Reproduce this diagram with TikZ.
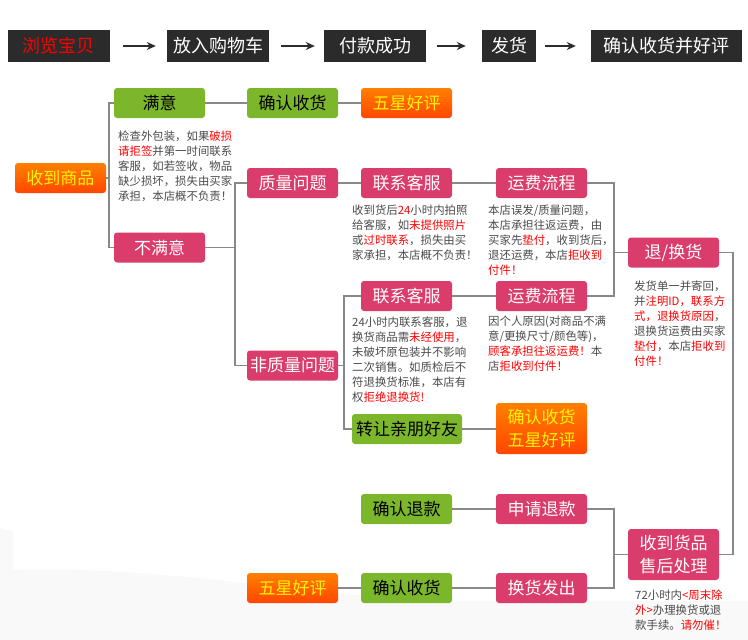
\documentclass[tikz,border=0pt]{standalone}
\usepackage{fontspec}
\newfontfamily\cjk{Noto Sans CJK SC}
\usetikzlibrary{arrows.meta}
\definecolor{mygreen}{RGB}{123,182,43}
\definecolor{mypink}{RGB}{218,60,108}
\definecolor{orA}{RGB}{255,128,0}
\definecolor{orB}{RGB}{255,70,0}
\definecolor{ylw}{RGB}{255,242,0}
\definecolor{lgray}{RGB}{136,136,136}
\definecolor{dark}{RGB}{43,43,43}
\definecolor{desctext}{RGB}{74,74,74}
\definecolor{rd}{RGB}{255,0,0}
\definecolor{bggray}{RGB}{249,249,249}
\newcommand{\rr}[1]{\textcolor{rd}{#1}}
\tikzset{
  box/.style={rounded corners=3pt, minimum width=91pt, minimum height=30pt, inner sep=0pt,
    font=\cjk\fontsize{17}{20}\selectfont, align=center},
  gbox/.style={box, fill=mygreen, text=black},
  pbox/.style={box, fill=mypink, text=white},
  obox/.style={box, top color=orA, bottom color=orB, text=ylw},
  topbox/.style={fill=dark, text=white, minimum height=32pt, inner sep=0pt,
    font=\cjk\fontsize{18}{20}\selectfont},
  desc/.style={anchor=north west, inner sep=0pt, align=left, text=desctext,
    font=\cjk\fontsize{11.4}{15}\selectfont},
  conn/.style={draw=lgray, line width=1.8pt},
  toparrow/.style={draw=dark, line width=1.4pt, -{Stealth[length=9pt,width=8pt]}}
}
\begin{document}
\begin{tikzpicture}[x=1pt,y=-1pt]
\useasboundingbox (0,0) rectangle (748,640);
\fill[bggray] (0,528) -- (13,532) -- (13,570) .. controls (150,566) and (260,588) .. (420,601) -- (748,601) -- (748,640) -- (0,640) -- cycle;

% top process bar
\node[topbox, minimum width=102pt, text=rd] (b1) at (59,46) {浏览宝贝};
\node[topbox, minimum width=102pt] (b2) at (218,46) {放入购物车};
\node[topbox, minimum width=102pt] (b3) at (375,46) {付款成功};
\node[topbox, minimum width=54pt] (b4) at (509,46) {发货};
\node[topbox, minimum width=151pt] (b5) at (666.5,46) {确认收货并好评};
\draw[toparrow, shorten <=13pt, shorten >=11pt] (b1) -- (b2);
\draw[toparrow, shorten <=12pt, shorten >=9pt] (b2) -- (b3);
\draw[toparrow, shorten <=11pt, shorten >=16pt] (b3) -- (b4);
\draw[toparrow, shorten <=9pt, shorten >=15pt] (b4) -- (b5);

% nodes
\node[obox] (shou) at (60.5,178) {收到商品};
\node[gbox] (manyi) at (159.5,103) {满意};
\node[pbox] (bumanyi) at (159.5,247.5) {不满意};
\node[gbox] (queren1) at (292.5,103) {确认收货};
\node[obox] (wuxing1) at (406.5,103) {五星好评};
\node[pbox] (zhiliang) at (292.5,183) {质量问题};
\node[pbox] (lianxi1) at (406.5,183) {联系客服};
\node[pbox] (yunfei1) at (541.5,183) {运费流程};
\node[pbox] (feizhi) at (292.5,365.5) {非质量问题};
\node[pbox] (lianxi2) at (406.5,296) {联系客服};
\node[pbox] (yunfei2) at (541.5,296) {运费流程};
\node[gbox, minimum width=110pt] (zhuanrang) at (407,429) {转让亲朋好友};
\node[obox, minimum height=51pt, font=\cjk\fontsize{17}{23}\selectfont] (querenwu) at (541.5,428.5) {确认收货\\五星好评};
\node[pbox] (tui) at (673.5,252.5) {退/换货};
\node[pbox, minimum height=51pt, font=\cjk\fontsize{17}{23}\selectfont] (shoudao) at (673.5,554.5) {收到货品\\售后处理};
\node[gbox] (querentk) at (406.5,509) {确认退款};
\node[pbox] (shenqing) at (541.5,509) {申请退款};
\node[obox] (wuxing2) at (292.5,588) {五星好评};
\node[gbox] (queren3) at (406.5,588) {确认收货};
\node[pbox] (huanhuo) at (541.5,588) {换货发出};

% descriptions
\node[desc] (d1) at (118,131) {检查外包装，如果\rr{破损}\\\rr{请拒签}并第一时间联系\\客服，如若签收，物品\\缺少损坏，损失由买家\\承担，本店概不负责！};
\node[desc] (d2) at (352,205) {收到货后\rr{24}小时内拍照\\给客服，如\rr{未提供照片}\\或\rr{过时联系}，损失由买\\家承担，本店概不负责！};
\node[desc] (d3) at (488,205) {本店误发/质量问题，\\本店承担往返运费，由\\买家先\rr{垫付}，收到货后，\\退还运费，本店\rr{拒收到}\\\rr{付件！}};
\node[desc] (d4) at (352,317) {24小时内联系客服，退\\换货商品需\rr{未经使用}，\\未破坏原包装并不影响\\二次销售。如质检后不\\符退换货标准，本店有\\权\rr{拒绝退换货!}};
\node[desc] (d5) at (488,316) {因个人原因(对商品不满\\意/更换尺寸/颜色等)，\\\rr{顾客承担往返运费！}本\\店\rr{拒收到付件！}};
\node[desc] (d6) at (634,281) {发货单一并寄回，\\并\rr{注明ID，联系方}\\\rr{式，退换货原因}，\\退换货运费由买家\\\rr{垫付}，本店\rr{拒收到}\\\rr{付件！}};
\node[desc] (d7) at (635,590) {72小时内\rr{<周末除}\\\rr{外>}办理换货或退\\款手续。\rr{请勿催！}};

% junction coordinates
\coordinate (t1) at (109,178);
\coordinate (t2) at (235,247.5);
\coordinate (t3) at (344,365.5);
\coordinate (t4) at (614,252.5);
\coordinate (t5) at (733,400);
\coordinate (t6) at (614,554.5);

% connectors
\draw[conn] (shou.east) -- (t1);
\draw[conn] (manyi.west) -| (t1) |- (bumanyi.west);
\draw[conn] (manyi) -- (queren1);
\draw[conn] (queren1) -- (wuxing1);
\draw[conn] (bumanyi.east) -- (t2);
\draw[conn] (zhiliang.west) -| (t2) |- (feizhi.west);
\draw[conn] (zhiliang) -- (lianxi1);
\draw[conn] (lianxi1) -- (yunfei1);
\draw[conn] (feizhi.east) -- (t3);
\draw[conn] (lianxi2.west) -| (t3) |- (zhuanrang.west);
\draw[conn] (lianxi2) -- (yunfei2);
\draw[conn] (zhuanrang.east) -- (zhuanrang.east -| querenwu.west);
\draw[conn] (yunfei1.east) -| (t4) |- (yunfei2.east);
\draw[conn] (t4) -- (tui.west);
\draw[conn] (tui.east) -| (t5) |- (shoudao.east);
\draw[conn] (querentk) -- (shenqing);
\draw[conn] (shenqing.east) -| (t6) |- (huanhuo.east);
\draw[conn] (t6) -- (shoudao.west);
\draw[conn] (wuxing2) -- (queren3);
\draw[conn] (queren3) -- (huanhuo);
\end{tikzpicture}
\end{document}
